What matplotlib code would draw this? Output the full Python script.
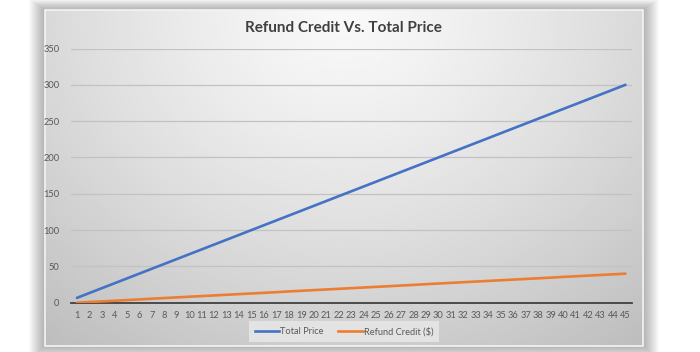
import numpy as np
import matplotlib
matplotlib.use("Agg")
import matplotlib.pyplot as plt
from matplotlib.patches import Rectangle
from matplotlib.lines import Line2D

# chart data
days = list(range(1, 46))
total_price = [6.67, 13.33, 20.00, 26.67, 33.33, 40.00, 46.67, 53.33, 60.00, 66.67,
               73.33, 80.00, 86.67, 93.33, 100.00, 106.67, 113.33, 120.00, 126.67, 133.33,
               140.00, 146.67, 153.33, 160.00, 166.67, 173.33, 180.00, 186.67, 193.33, 200.00,
               206.67, 213.33, 220.00, 226.67, 233.33, 240.00, 246.67, 253.33, 260.00, 266.67,
               273.33, 280.00, 286.67, 293.33, 300.00]
refund_credit = [0.0, 0.9, 1.8, 2.7, 3.6, 4.5, 5.5, 6.4, 7.3, 8.2,
                 9.1, 10.0, 10.9, 11.8, 12.7, 13.6, 14.5, 15.5, 16.4, 17.3,
                 18.2, 19.1, 20.0, 20.9, 21.8, 22.7, 23.6, 24.5, 25.5, 26.4,
                 27.3, 28.2, 29.1, 30.0, 30.9, 31.8, 32.7, 33.6, 34.5, 35.5,
                 36.4, 37.3, 38.2, 39.1, 40.0]
y_ticks = [0, 50, 100, 150, 200, 250, 300, 350]

plt.rcParams['font.family'] = ['Lato', 'DejaVu Sans']
W, H = 700, 352
fig = plt.figure(figsize=(W / 100, H / 100), dpi=100)
fig.patch.set_facecolor("white")

# background card with a soft shadow and a grey radial gradient
bg = fig.add_axes([0, 0, 1, 1], zorder=0)
bg.set_xlim(0, W)
bg.set_ylim(H, 0)
bg.axis("off")
cx0, cy0, cx1, cy1 = 45, 10, 643, 346
for i in range(16, 0, -1):
    bg.add_patch(Rectangle((cx0 - i, cy0 - i * 0.7), (cx1 - cx0) + 2 * i, (cy1 - cy0) + i * 1.5,
                           facecolor="black", edgecolor="none", alpha=0.018))
gx = np.linspace(0, 1, 300)
gy = np.linspace(0, 1, 170)
X, Y = np.meshgrid(gx, gy)
r = np.sqrt(((X - 0.5) / 0.72) ** 2 + (Y / 1.12) ** 2)
shade = 0.975 - 0.2 * np.clip(r, 0, 1.2) ** 1.3
bg.imshow(shade, cmap="gray", vmin=0, vmax=1, extent=[cx0, cx1, cy1, cy0],
          aspect="auto", interpolation="bilinear", zorder=1)
bg.add_patch(Rectangle((cx0, cy0), cx1 - cx0, cy1 - cy0, facecolor="none",
                       edgecolor="#f4f4f4", linewidth=1.2, zorder=2))

ax = fig.add_axes([70.7 / W, 1 - 302.7 / H, (631.7 - 70.7) / W, (302.7 - 48.5) / H], zorder=2)
ax.patch.set_alpha(0)
ax.plot(days, total_price, color="#4472C4", linewidth=1.9, solid_capstyle="round", zorder=3)
ax.plot(days, refund_credit, color="#ED7D31", linewidth=1.9, solid_capstyle="round", zorder=3)

ax.set_xlim(0.5, 45.5)
ax.set_ylim(0, 350)
ax.set_yticks(y_ticks)
ax.set_xticks(days)
ax.set_xticklabels([str(d) for d in days])
ax.grid(True, axis="y", color="#c2c2c2", linewidth=0.9)
ax.set_axisbelow(True)
for s in ["top", "right", "left"]:
    ax.spines[s].set_visible(False)
ax.spines["bottom"].set_color("#404040")
ax.spines["bottom"].set_linewidth(1.3)
ax.tick_params(axis="both", length=0, labelsize=6.7, colors="#595959")
ax.tick_params(axis="x", pad=6)
ax.tick_params(axis="y", pad=8)

fig.text(343.5 / W, 1 - 28 / H, "Refund Credit Vs. Total Price", ha="center", va="center",
         fontsize=11, fontweight="bold", color="#404040")

handles = [Line2D([], [], color="#4472C4", linewidth=1.9),
           Line2D([], [], color="#ED7D31", linewidth=1.9)]
leg = fig.legend(handles, ["Total Price", "Refund Credit ($)"], loc="center",
                 bbox_to_anchor=(344 / W, 1 - 331.5 / H), ncol=2, fontsize=6.7,
                 frameon=True, fancybox=False, handlelength=2.6, handletextpad=0.1,
                 columnspacing=1.6, borderpad=0.6)
leg.get_frame().set_facecolor("#e6e6e6")
leg.get_frame().set_edgecolor("none")
leg.get_frame().set_alpha(0.9)
for t in leg.get_texts():
    t.set_color("#595959")

fig.savefig("out.png", dpi=100)
